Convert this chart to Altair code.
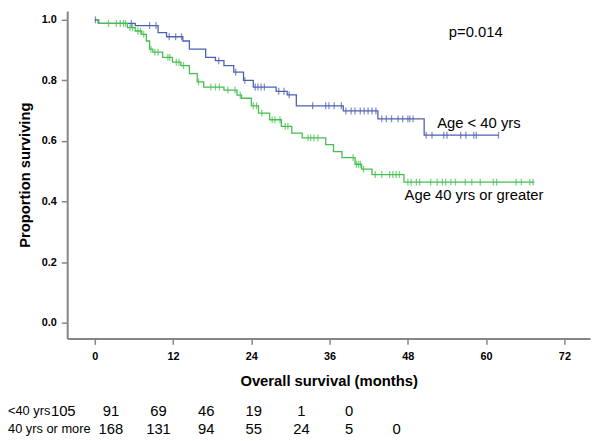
import altair as alt
import pandas as pd

FONT = "Liberation Sans"

groups = ["Age < 40 yrs", "Age 40 yrs or greater"]
colors = ["#4d61b3", "#45bf50"]

# Kaplan-Meier steps (months, proportion surviving)
young_t = [0, 0.6, 6.2, 9.7, 11.0, 13.5, 14.5, 17.0, 18.5, 19.8, 21.3, 22.8, 24.3,
           27.8, 29.5, 30.9, 38.1, 43.4, 50.5, 61.9]
young_s = [1.0, 0.988, 0.981, 0.958, 0.944, 0.930, 0.903, 0.876, 0.865, 0.849, 0.827,
           0.800, 0.778, 0.764, 0.752, 0.716, 0.699, 0.673, 0.619, 0.619]
young_censor = [0.1, 5.6, 8.4, 9.4, 11.4, 12.4, 13.3, 19.0, 21.6, 23.0, 24.6, 25.0,
                25.5, 26.0, 28.2, 29.0, 29.8, 33.4, 35.4, 35.9, 36.7, 37.8, 38.5,
                39.3, 39.9, 40.7, 41.3, 41.9, 42.5, 43.1, 44.0, 44.7, 45.5, 46.5,
                47.2, 48.0, 48.3, 48.8, 50.8, 51.7, 53.5, 54.0, 56.1, 56.9, 58.1,
                58.5, 61.9]

old_t = [0, 0.5, 5.0, 6.2, 7.2, 7.9, 8.4, 8.9, 10.4, 11.9, 13.2, 14.5, 15.7, 16.7,
         19.8, 21.8, 22.5, 24.0, 25.1, 26.8, 28.6, 30.2, 31.8, 35.4, 36.6, 37.9,
         39.9, 40.9, 42.5, 47.4, 67.4]
old_s = [1.0, 0.988, 0.974, 0.963, 0.952, 0.930, 0.903, 0.893, 0.876, 0.860, 0.849,
         0.822, 0.795, 0.778, 0.768, 0.751, 0.741, 0.716, 0.692, 0.670, 0.648, 0.626,
         0.610, 0.588, 0.565, 0.545, 0.523, 0.507, 0.489, 0.464, 0.464]
old_censor = [2.1, 3.3, 3.9, 4.4, 4.7, 5.4, 5.8, 6.6, 7.0, 7.5, 8.6, 9.2, 9.7, 11.2,
              11.5, 12.5, 12.9, 13.6, 15.9, 17.8, 18.5, 19.1, 20.4, 21.5, 22.3, 24.3,
              24.8, 25.6, 27.2, 27.6, 28.4, 29.2, 29.6, 32.7, 33.1, 33.6, 34.2, 39.6,
              40.1, 40.4, 40.7, 41.2, 43.0, 44.0, 45.2, 45.7, 46.2, 46.7, 48.0, 48.5,
              49.3, 49.8, 51.5, 52.5, 53.3, 53.8, 54.6, 55.3, 56.8, 57.8, 59.1, 61.1,
              61.6, 64.6, 65.4, 66.7, 67.2]

# numbers at risk
risk_labels = ["<40 yrs", "40 yrs or more"]
young_risk = [105, 91, 69, 46, 19, 1, 0]
old_risk = [168, 131, 94, 55, 24, 5, 0]
risk_col_start = [0, 1]

x_ticks = [0, 12, 24, 36, 48, 60, 72]
y_ticks = [0.0, 0.2, 0.4, 0.6, 0.8, 1.0]


def level_at(ts, ss, t):
    v = ss[0]
    for ti, si in zip(ts, ss):
        if ti <= t:
            v = si
    return v


curve_rows, censor_rows = [], []
for g, ts, ss, cs in [(groups[0], young_t, young_s, young_censor),
                      (groups[1], old_t, old_s, old_censor)]:
    for t, s in zip(ts, ss):
        curve_rows.append({"group": g, "t": t, "s": s})
    for c in cs:
        censor_rows.append({"group": g, "t": c, "s": level_at(ts, ss, c)})
curves = pd.DataFrame(curve_rows)
censors = pd.DataFrame(censor_rows)

x_scale = alt.Scale(domain=[-4.235, 75.93], nice=False, zero=False)
y_scale = alt.Scale(domain=[-0.0521, 1.0293], nice=False, zero=False)
color = alt.Color("group:N", scale=alt.Scale(domain=groups, range=colors), legend=None)

axis_style = dict(domainColor="#858585", domainWidth=2, tickColor="#858585",
                  tickWidth=1.5, tickSize=6, labelFont=FONT, labelFontSize=11,
                  labelFontWeight="bold", labelColor="black", titleFont=FONT,
                  titleFontSize=15, titleFontWeight="bold", titleColor="black",
                  grid=False)

x_enc = alt.X("t:Q", scale=x_scale,
              axis=alt.Axis(values=x_ticks, title="Overall survival (months)",
                            labelPadding=6, titlePadding=13, **axis_style))
y_enc = alt.Y("s:Q", scale=y_scale,
              axis=alt.Axis(values=y_ticks, format=".1f", title="Proportion surviving",
                            labelPadding=5, titlePadding=9, **axis_style))

lines = alt.Chart(curves).mark_line(interpolate="step-after", strokeWidth=1.3).encode(
    x=x_enc, y=y_enc, color=color)
ticks = alt.Chart(censors).mark_tick(orient="vertical", size=7, thickness=1.3).encode(
    x="t:Q", y="s:Q", color=color)

ann_left = pd.DataFrame({"label": groups, "t": [52.5, 47.5], "s": [0.658, 0.420]})
ann_p = pd.DataFrame({"label": ["p=0.014"], "t": [58.4], "s": [0.958]})
txt_left = alt.Chart(ann_left).mark_text(align="left", baseline="middle", font=FONT,
                                         fontSize=15, color="black").encode(
    x="t:Q", y="s:Q", text="label:N")
txt_p = alt.Chart(ann_p).mark_text(align="center", baseline="middle", font=FONT,
                                   fontSize=15, color="black").encode(
    x="t:Q", y="s:Q", text="label:N")

main = alt.layer(lines, ticks, txt_left, txt_p)

table_rows = []
for r, vals in enumerate([young_risk, old_risk]):
    for i, v in enumerate(vals):
        table_rows.append({"row": r, "slot": i + risk_col_start[r], "n": str(v)})
table_df = pd.DataFrame(table_rows)
label_df = pd.DataFrame({"row": [0, 1], "label": risk_labels})

row_scale = alt.Scale(domain=[0, 1], range=[406, 424], nice=False, zero=False)
nums = alt.Chart(table_df).mark_text(align="center", baseline="middle", font=FONT,
                                     fontSize=15, color="black").encode(
    x=alt.X("slot:Q", scale=alt.Scale(domain=[0, 7], range=[-4, 334], nice=False,
                                      zero=False), axis=None),
    y=alt.Y("row:Q", scale=row_scale, axis=None),
    text="n:N")
labels = alt.Chart(label_df).mark_text(align="left", baseline="middle", font=FONT,
                                       fontSize=13, color="black").encode(
    x=alt.value(-60),
    y=alt.Y("row:Q", scale=row_scale, axis=None),
    text="label:N")
table = alt.layer(nums, labels)

chart = alt.layer(main, table).resolve_scale(x="independent", y="independent").properties(
    width=530, height=332,
    autosize=alt.AutoSizeParams(type="none"),
    padding={"left": 60, "top": 0, "right": 2, "bottom": 101},
).configure_view(stroke=None)

chart.save("out.html", embed_options={"renderer": "svg", "actions": False})
